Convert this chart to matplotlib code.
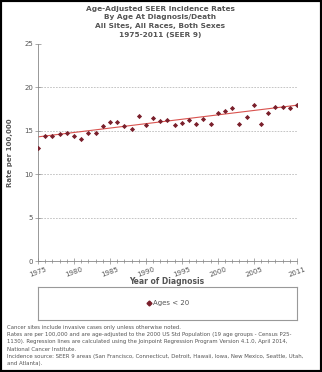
import matplotlib
matplotlib.use("Agg")
import matplotlib.pyplot as plt
from matplotlib.lines import Line2D

# observed rates, ages < 20
years = list(range(1975, 2012))
rates = [13.0, 14.4, 14.4, 14.6, 14.8, 14.4, 14.1, 14.7, 14.7, 15.55,
         16.0, 16.0, 15.5, 15.2, 16.7, 15.7, 16.45, 16.1, 16.2, 15.7,
         15.9, 16.3, 15.8, 16.35, 15.8, 17.0, 17.25, 17.6, 15.75, 16.55,
         17.95, 15.75, 17.1, 17.7, 17.7, 17.6, 17.95]

# joinpoint regression line
fit_years = [1975, 2011]
fit_rates = [14.3, 17.95]

xtick_years = [1975, 1980, 1985, 1990, 1995, 2000, 2005, 2011]
yticks = [0, 5, 10, 15, 20, 25]

title_lines = ["Age-Adjusted SEER Incidence Rates",
               "By Age At Diagnosis/Death",
               "All Sites, All Races, Both Sexes",
               "1975-2011 (SEER 9)"]

notes = ("Cancer sites include invasive cases only unless otherwise noted.\n"
         "Rates are per 100,000 and are age-adjusted to the 2000 US Std Population (19 age groups - Census P25-\n"
         "1130). Regression lines are calculated using the Joinpoint Regression Program Version 4.1.0, April 2014,\n"
         "National Cancer Institute.\n"
         "Incidence source: SEER 9 areas (San Francisco, Connecticut, Detroit, Hawaii, Iowa, New Mexico, Seattle, Utah,\n"
         "and Atlanta).")

W, H = 322, 372
fig = plt.figure(figsize=(W / 100, H / 100), dpi=100)
fig.patch.set_facecolor("white")

grey = "#555555"
point_col = "#7a1f2b"
line_col = "#d9534f"

# black frame around the whole picture
fig.add_artist(plt.Rectangle((0, 0), 1, 1, transform=fig.transFigure,
                             fill=False, edgecolor="black", linewidth=3))

ax = fig.add_axes([38 / W, 1 - 261 / H, (297 - 38) / W, (261 - 44) / H])
ax.plot(fit_years, fit_rates, color=line_col, linewidth=0.8, zorder=2)
ax.scatter(years, rates, marker="D", s=7, color=point_col, zorder=3, linewidths=0)

ax.set_xlim(1975, 2011)
ax.set_ylim(0, 25)
ax.set_yticks(yticks)
ax.set_xticks(xtick_years)
ax.set_xticks(years, minor=True)
ax.set_xticklabels([str(y) for y in xtick_years], rotation=20, fontsize=5, color=grey)
ax.set_yticklabels([str(v) for v in yticks], fontsize=5, color=grey)

for v in yticks[1:-1]:
    ax.axhline(v, color="#bbbbbb", linewidth=0.6, linestyle=(0, (2, 1.5)), zorder=1)

for s in ["top", "right"]:
    ax.spines[s].set_visible(False)
for s in ["left", "bottom"]:
    ax.spines[s].set_color("#888888")
    ax.spines[s].set_linewidth(0.6)
ax.tick_params(axis="both", which="both", direction="inout", color="#888888",
               width=0.5, length=4, pad=1.5)
ax.tick_params(axis="x", which="minor", length=3)

ax.set_ylabel("Rate per 100,000", fontsize=5, color=grey, fontweight="bold", labelpad=8)
fig.text(167 / W, 1 - 281 / H, "Year of Diagnosis", ha="center", va="center",
         fontsize=5.5, color=grey, fontweight="bold")

fig.text(160 / W, 1 - 6 / H, "\n".join(title_lines), ha="center", va="top",
         fontsize=5.3, fontweight="bold", color=grey, linespacing=1.5)

# legend box
lax = fig.add_axes([38 / W, 1 - 320 / H, (297 - 38) / W, (320 - 287) / H])
lax.set_xticks([])
lax.set_yticks([])
for s in lax.spines.values():
    s.set_color("#999999")
    s.set_linewidth(0.8)
handle = Line2D([], [], marker="D", markersize=2.5, color=point_col, linestyle="none")
leg = lax.legend([handle], ["Ages < 20"], loc="center", frameon=False,
                 fontsize=5, handletextpad=0.1, handlelength=1)
for t in leg.get_texts():
    t.set_color(grey)

fig.text(7 / W, 1 - 325 / H, notes, ha="left", va="top", fontsize=3.9,
         color=grey, linespacing=1.55)

fig.savefig("out.png", dpi=100)
